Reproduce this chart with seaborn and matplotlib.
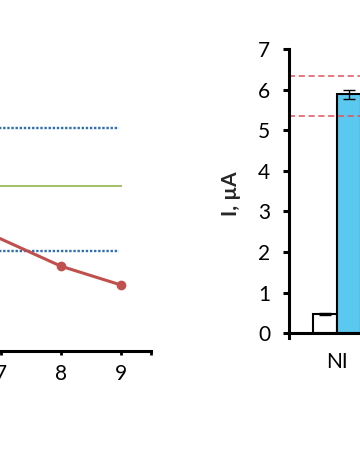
import pandas as pd
import matplotlib.pyplot as plt
import seaborn as sns

# left panel: red curve and reference levels
ph = [6, 8, 9]
signal = [3.48, 2.12, 1.65]
upper_limit = 5.58
lower_limit = 2.50
mean_level = 4.13
left_ticks = [7, 8, 9, 9.5]
left_ticklabels = ["7", "8", "9", ""]

# right panel: bars
groups = ["NI", "NI"]
conditions = ["control", "sample"]
current = [0.47, 5.89]
current_err = [0.03, 0.11]
bar_colors = ["white", "#5BC8EF"]
dashed_levels = [6.33, 5.35]
right_ticks = [0, 1, 2, 3, 4, 5, 6, 7]

sns.set_style("white")
plt.rcParams["font.family"] = ["Lato", "DejaVu Sans"]

fig = plt.figure(figsize=(3.6, 4.73), dpi=100)

# ---- left panel (mostly cropped) ----
ax1 = fig.add_axes([-59 / 360, 122 / 473, 210 / 360, 300 / 473])
ax1.hlines([upper_limit, lower_limit], 6, 8.97, color="#2E6DB0", lw=1.7,
           linestyle=(0, (1, 0.75)))
ax1.hlines(mean_level, 6, 9.02, color="#9BBB59", lw=1.3)
df_line = pd.DataFrame({"pH": ph, "I": signal})
sns.lineplot(data=df_line, x="pH", y="I", ax=ax1, color="#C0504D", lw=2.2,
             marker="o", markersize=7, markeredgewidth=0)
ax1.set_xlim(6, 9.5)
ax1.set_ylim(0, 7.5)
ax1.set_xticks(left_ticks)
ax1.set_xticklabels(left_ticklabels)
ax1.set_yticks([])
ax1.set_xlabel("")
ax1.set_ylabel("")
for s in ["top", "right", "left"]:
    ax1.spines[s].set_visible(False)
ax1.spines["bottom"].set_linewidth(2.2)
ax1.spines["bottom"].set_color("black")
ax1.tick_params(axis="x", direction="out", length=3, width=2, pad=6,
                labelsize=15, colors="black", bottom=True)
ax1.patch.set_alpha(0)

# ---- right panel (bars) ----
ax2 = fig.add_axes([289 / 360, 135 / 473, 228 / 360, 289 / 473])
df_bar = pd.DataFrame({"group": groups, "cond": conditions, "I": current})
sns.barplot(data=df_bar, x="group", y="I", hue="cond", hue_order=conditions,
            palette=bar_colors, saturation=1, edgecolor="black", linewidth=1.5,
            errorbar=None, legend=False, ax=ax2)
centers = [p.get_x() + p.get_width() / 2 for p in ax2.patches[:2]]
ax2.errorbar(centers, current, yerr=current_err, fmt="none", ecolor="black",
             elinewidth=1, capsize=4, capthick=1)
ax2.hlines(dashed_levels, -0.8, 3, color="#E0525C", lw=1.1,
           linestyle=(0, (4, 2.4)))
ax2.axhline(0, color="black", lw=2.2)
ax2.set_xlim(-0.8, 3)
ax2.set_ylim(-0.12, 7)
ax2.set_yticks(right_ticks)
ax2.set_xlabel("")
ax2.set_ylabel("I, µA", fontsize=15, fontweight="bold", labelpad=12)
for s in ["top", "right", "bottom"]:
    ax2.spines[s].set_visible(False)
ax2.spines["left"].set_linewidth(2.2)
ax2.spines["left"].set_color("black")
ax2.tick_params(axis="y", direction="out", length=4.5, width=2.2, pad=9,
                labelsize=15, colors="black", left=True)
ax2.tick_params(axis="x", length=0, pad=10, labelsize=15, colors="black")
ax2.patch.set_alpha(0)

fig.savefig("out.png", dpi=100)
